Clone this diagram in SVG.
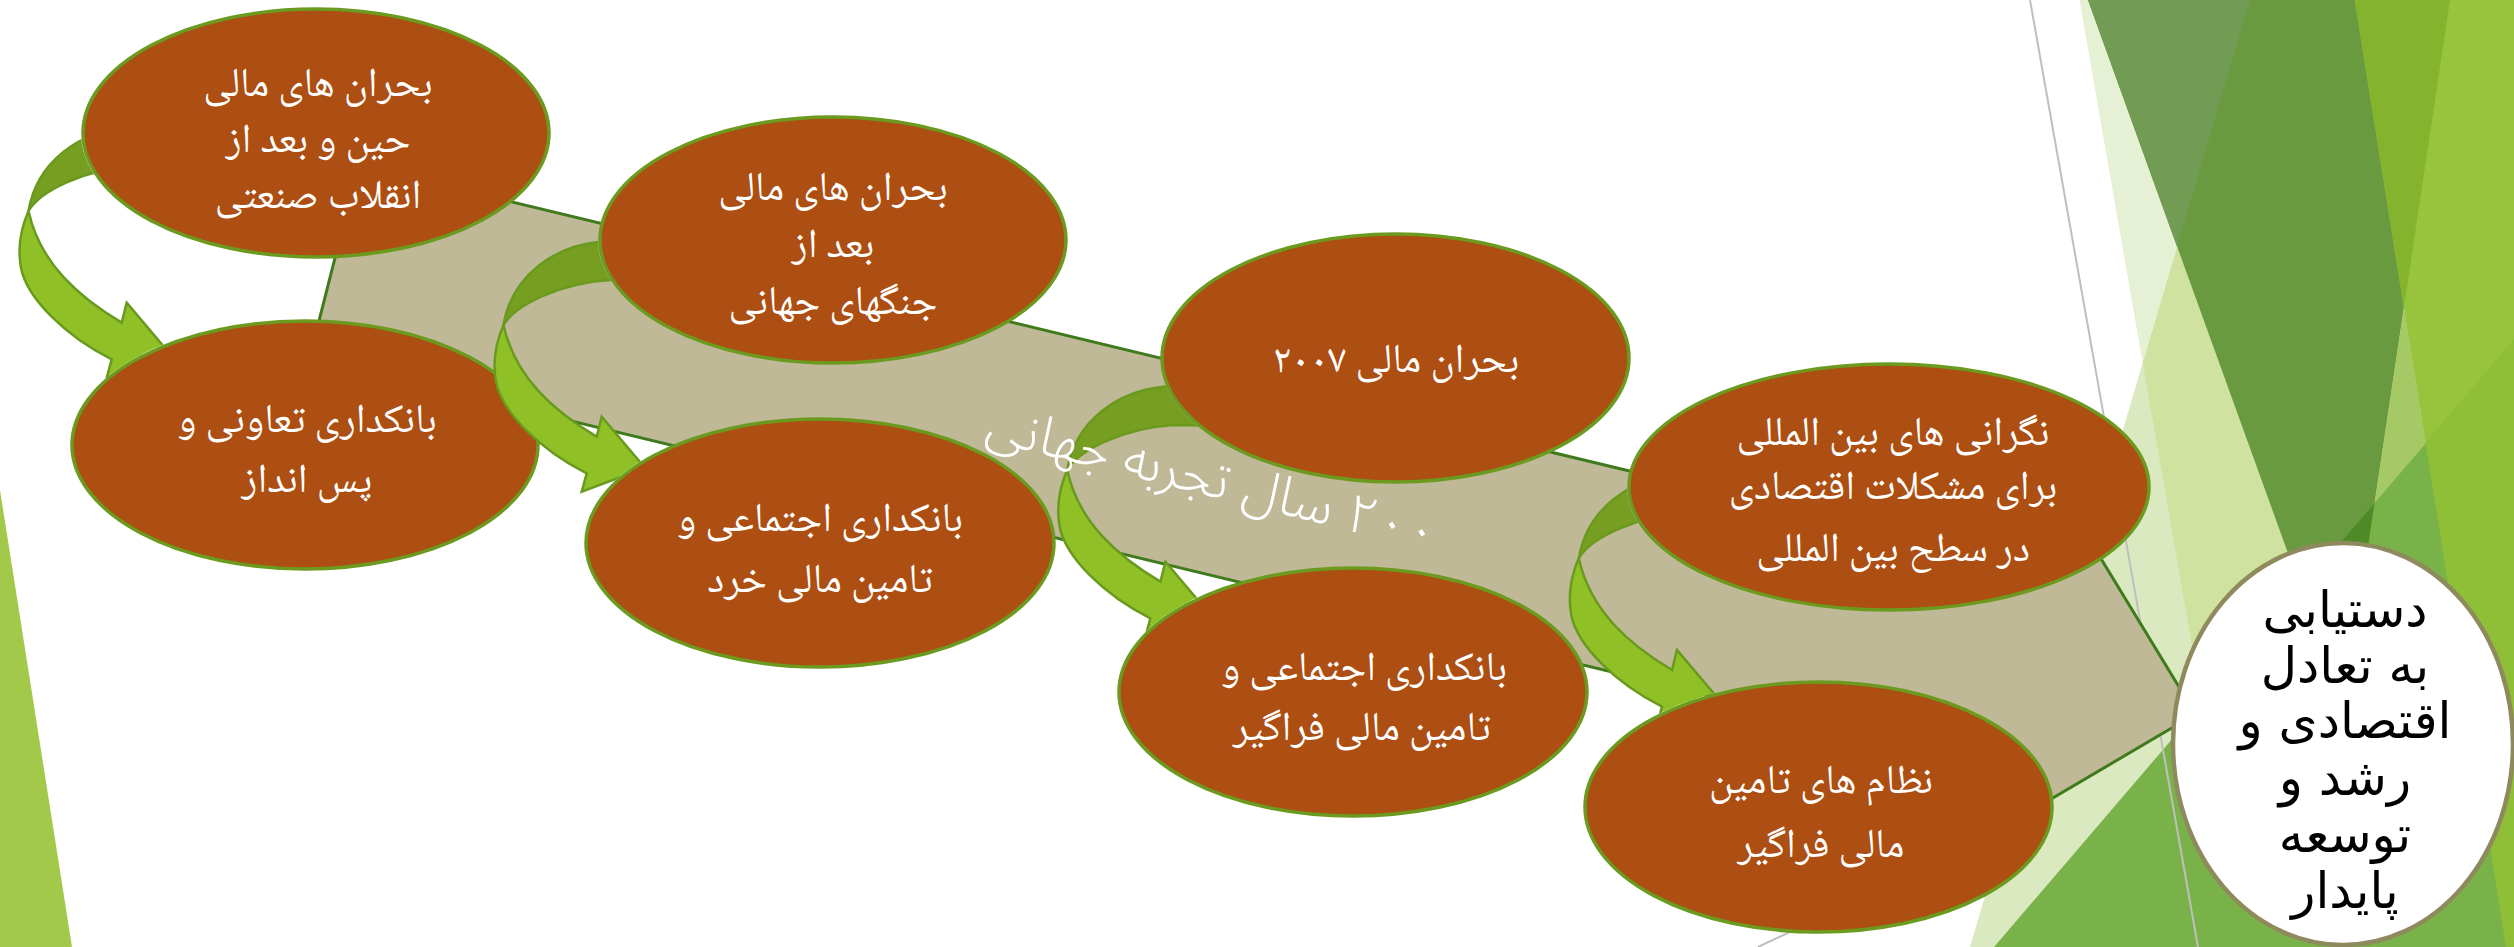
<svg xmlns="http://www.w3.org/2000/svg" xmlns:xlink="http://www.w3.org/1999/xlink" width="2514" height="947" viewBox="0 0 2514 947">
<style>
.bg{stroke:none}
.el{fill:#ad4e12;stroke:#6b9a1f;stroke-width:3.5}
.nt{fill:#ffffff;font-family:"Noto Naskh Arabic","Noto Sans Arabic","DejaVu Sans",sans-serif;font-size:41px;text-anchor:middle;direction:rtl}
.ct{fill:#000000;font-family:"DejaVu Sans",sans-serif;font-size:50px;text-anchor:middle;direction:rtl}
.bt{fill:#ffffff;font-family:"Noto Sans Arabic","DejaVu Sans",sans-serif;font-weight:300;font-size:54px;text-anchor:middle;direction:rtl}
.ad{fill:#769f22;stroke:#699a1e;stroke-width:2.5}
.ab{fill:#8fc127;stroke:#699a1e;stroke-width:2.5}
</style>
<defs>
<g id="arrowShape">
<path class="ad" d="M 660,235 L 600,241.7 C 555,246 512,275 503.5,325 C 515,305 560,283 610,280 L 660,281 Z"/>
<path class="ab" d="M 503.5,325 C 497,340 492,360 496,382 C 502,412 540,450 586.7,473.3 L 581.7,491.7 L 645,468 L 601.7,416.7 L 596.7,436.7 C 555,412 515,378 503.5,325 Z"/>
</g>
<clipPath id="c1"><path clip-rule="evenodd" d="M -10,-10 H 2600 V 1000 H -10 Z M 81,133 a 235,126 0 1,0 470,0 a 235,126 0 1,0 -470,0 Z M 70,445 a 235,126 0 1,0 470,0 a 235,126 0 1,0 -470,0 Z"/></clipPath>
<clipPath id="c2"><path clip-rule="evenodd" d="M -10,-10 H 2600 V 1000 H -10 Z M 598,240 a 235,125 0 1,0 470,0 a 235,125 0 1,0 -470,0 Z M 584,543 a 236,126 0 1,0 472,0 a 236,126 0 1,0 -472,0 Z"/></clipPath>
<clipPath id="c3"><path clip-rule="evenodd" d="M -10,-10 H 2600 V 1000 H -10 Z M 1160,358 a 235.5,126 0 1,0 471,0 a 235.5,126 0 1,0 -471,0 Z M 1117,692 a 236,126 0 1,0 472,0 a 236,126 0 1,0 -472,0 Z"/></clipPath>
<clipPath id="c4"><path clip-rule="evenodd" d="M -10,-10 H 2600 V 1000 H -10 Z M 1627,487 a 262,125 0 1,0 524,0 a 262,125 0 1,0 -524,0 Z M 1583,807 a 235.5,127 0 1,0 471,0 a 235.5,127 0 1,0 -471,0 Z"/></clipPath>
</defs>

<g id="background">
<rect x="0" y="0" width="2514" height="947" fill="#ffffff"/>
<polygon class="bg" fill="#dbe9c0" points="2250,0 2514,0 2514,947 1970,947"/>
<polygon class="bg" fill="#cfe2a0" points="2142.7,362.8 2250,0 2514,0 2514,947 2244.6,947"/>
<polygon class="bg" fill="#e6f0d4" points="2079.5,0 2250,0 2142.7,362.8"/>
<polygon class="bg" fill="#6a9a40" points="2088,0 2450,0 2344,708"/>
<polygon class="bg" fill="#729c53" points="2088,0 2250,0 2177,246.7"/>
<polygon class="bg" fill="#97c43c" points="2354.7,0 2514,0 2514,947 2506,947"/>
<polygon class="bg" fill="#84b32e" points="2354.7,0 2450,0 2404,307"/>
<polygon class="bg" fill="#a5c965" points="2404,307 2425.6,443 2374.5,503"/>
<polygon class="bg" fill="#7ab24a" points="1994,947 2514,340 2514,947"/>
<polygon class="bg" fill="#8ebf36" points="2425.6,443 2514,340 2514,947 2506,947"/>
<polygon class="bg" fill="#4e8a25" points="2374.5,503 2344,708 2300.7,589"/>
<line x1="2030" y1="0" x2="2198" y2="947" stroke="#bfbfbf" stroke-width="2"/>
<line x1="1758" y1="947" x2="1830" y2="913" stroke="#bfbfbf" stroke-width="2"/>
<polygon class="bg" fill="#a3c94a" points="0,490 72,947 0,947"/>
</g>

<g id="band">
<polygon fill="#c0b997" stroke="#3f7b1d" stroke-width="3" stroke-linejoin="miter" points="358.6,165 1700,488 2047,470 2195.5,714 1990,835 1990,763 309.6,358"/>
</g>

<g id="node1">
<ellipse class="el" cx="316" cy="133" rx="233" ry="124"/>
<text class="nt"><tspan x="318" y="96">بحران های مالی</tspan><tspan x="318" y="152">حین و بعد از</tspan><tspan x="318" y="208">انقلاب صنعتی</tspan></text>
</g>
<g id="node2">
<ellipse class="el" cx="305" cy="445" rx="233" ry="124"/>
<text class="nt"><tspan x="307" y="432">بانکداری تعاونی و</tspan><tspan x="307" y="492">پس انداز</tspan></text>
</g>
<g id="node3">
<ellipse class="el" cx="833" cy="240" rx="233" ry="123"/>
<text class="nt"><tspan x="833" y="200">بحران های مالی</tspan><tspan x="833" y="257">بعد از</tspan><tspan x="833" y="314">جنگهای جهانی</tspan></text>
</g>
<g id="node4">
<ellipse class="el" cx="820" cy="543" rx="234" ry="124"/>
<text class="nt"><tspan x="820" y="531">بانکداری اجتماعی و</tspan><tspan x="820" y="592">تامین مالی خرد</tspan></text>
</g>
<g id="node5">
<ellipse class="el" cx="1395.5" cy="358" rx="233.5" ry="124"/>
<text class="nt"><tspan x="1396" y="372">بحران مالی ۲۰۰۷</tspan></text>
</g>
<g id="node6">
<ellipse class="el" cx="1353" cy="692" rx="234" ry="124"/>
<text class="nt"><tspan x="1364" y="680">بانکداری اجتماعی و</tspan><tspan x="1362" y="740">تامین مالی فراگیر</tspan></text>
</g>
<g id="node7">
<ellipse class="el" cx="1889" cy="487" rx="260" ry="123"/>
<text class="nt"><tspan x="1893" y="445">نگرانی های بین المللی</tspan><tspan x="1893" y="499">برای مشکلات اقتصادی</tspan><tspan x="1893" y="561">در سطح بین المللی</tspan></text>
</g>
<g id="node8">
<ellipse class="el" cx="1818.5" cy="807" rx="233.5" ry="125"/>
<text class="nt"><tspan x="1821" y="793">نظام های تامین</tspan><tspan x="1821" y="857">مالی فراگیر</tspan></text>
</g>
<g id="node9">
<ellipse cx="2343" cy="744" rx="170" ry="201" fill="#ffffff" stroke="#8f8a5d" stroke-width="4.5"/>
<text class="ct"><tspan x="2345" y="627">دستیابی</tspan><tspan x="2345" y="683">به تعادل</tspan><tspan x="2345" y="738">اقتصادی و</tspan><tspan x="2345" y="795">رشد و</tspan><tspan x="2345" y="852">توسعه</tspan><tspan x="2345" y="908">پایدار</tspan></text>
</g>

<g id="connectors">
<g clip-path="url(#c1)"><use xlink:href="#arrowShape" transform="translate(-475,-114)"/></g>
<g clip-path="url(#c2)"><use xlink:href="#arrowShape"/></g>
<g clip-path="url(#c3)"><use xlink:href="#arrowShape" transform="translate(563.7,145)"/></g>
<g clip-path="url(#c4)"><use xlink:href="#arrowShape" transform="translate(1075.3,233.3)"/></g>
</g>

<g id="band-label">
<text class="bt" transform="translate(1212,480) rotate(14)" x="0" y="16">۲۰۰ سال تجربه جهانی</text>
</g>
</svg>
